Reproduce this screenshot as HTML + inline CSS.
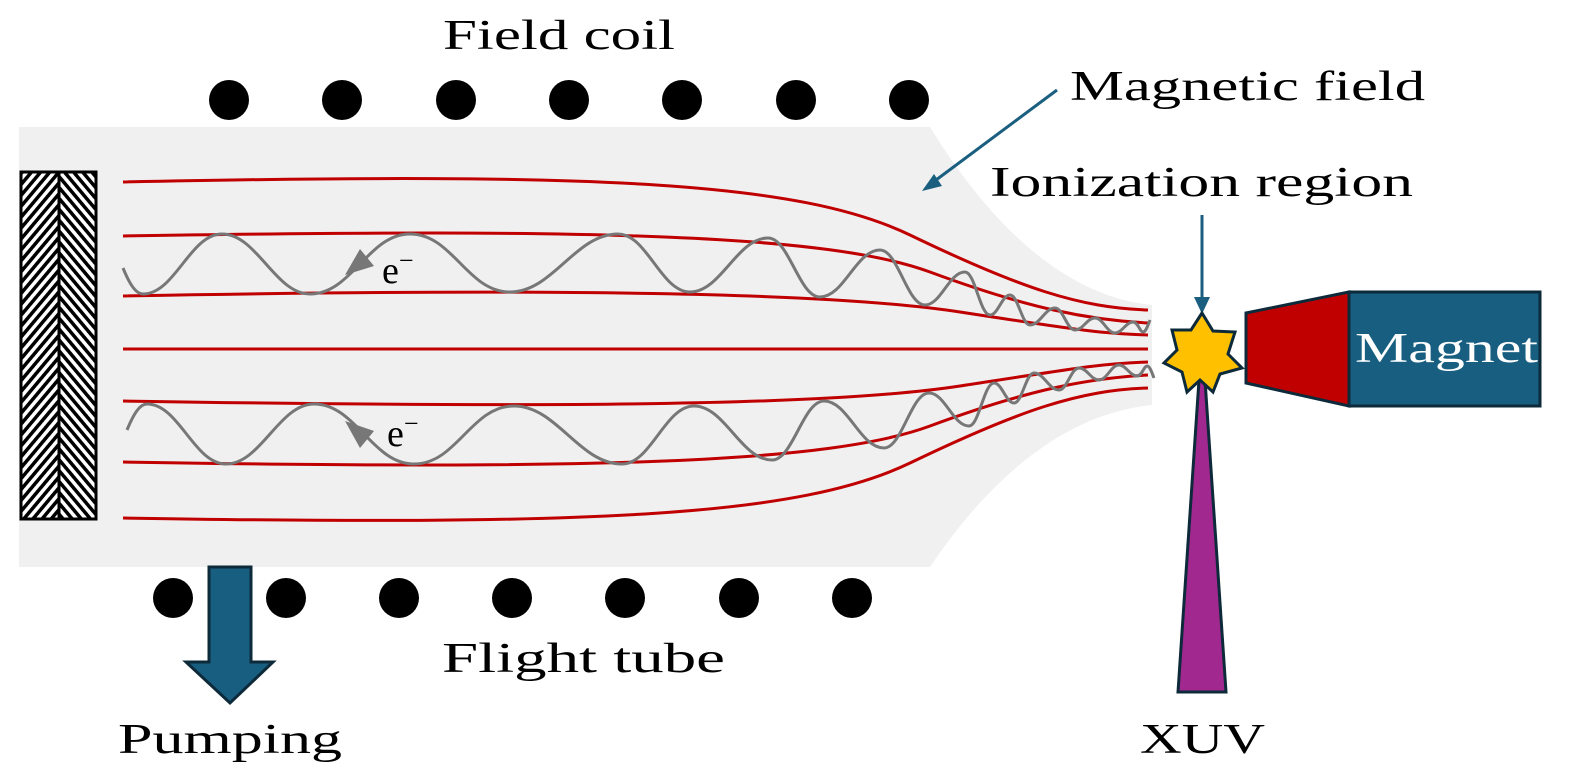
<!DOCTYPE html>
<html><head><meta charset="utf-8"><style>
html,body{margin:0;padding:0;background:#fff}
svg{display:block}
text{font-family:"Liberation Serif",serif;fill:#000}
</style></head><body>
<svg width="1575" height="778" viewBox="0 0 1575 778" xmlns="http://www.w3.org/2000/svg">
<defs>
<pattern id="h1" width="7" height="7" patternUnits="userSpaceOnUse" patternTransform="rotate(40)"><rect width="7" height="7" fill="#fff"/><rect width="3.5" height="7" fill="#000"/></pattern>
<pattern id="h2" width="7" height="7" patternUnits="userSpaceOnUse" patternTransform="rotate(-40)"><rect width="7" height="7" fill="#fff"/><rect width="3.5" height="7" fill="#000"/></pattern>
<g id="wave">
<path fill="none" stroke="#777" stroke-width="3" d="M123,268 C130,285 136,294 143,294 C175,294 190,234 222,234 C257,234 275,294 310,294 C352,294 368,234 410,234 C453,234 467,292 510,292 C553,292 575,234 618,234 C647,234 661,292 690,292 C721,292 737,238 768,238 C789,238 799,297 820,297 C844,297 856,250 880,250 C898,250 907,305 925,305 C941,305 949,272 965,272 C975,272 980,315 990,315 C998,315 1002,295 1010,295 C1018,295 1022,325 1030,325 C1040,325 1045,308 1055,308 C1063,308 1067,330 1075,330 C1083,330 1087,318 1095,318 C1103,318 1107,333 1115,333 C1122,333 1126,322 1133,322 C1138,322 1140,332 1143,332 C1146,332 1148,325 1150,320"/>
</g>
</defs>
<path d="M19,127 H930 C975,200 1050,295 1152,305 V405 C1050,415 975,500 930,567 H19 Z" fill="#f0f0f0"/>
<rect x="21" y="172" width="38" height="347" fill="url(#h1)" stroke="#000" stroke-width="3"/>
<rect x="59" y="172" width="37" height="347" fill="url(#h2)" stroke="#000" stroke-width="3"/>
<g fill="none" stroke="#c00000" stroke-width="3">
<path d="M123,182 C600,172 800,182 910,235 S1080,308 1148,310"/>
<path d="M123,236 C600,228 830,235 930,272 S1090,320 1148,323"/>
<path d="M123,296 C550,288 830,292 960,312 S1100,333 1148,335"/>
<path d="M123,349 H1148"/>
<path d="M123,401 C550,408 830,406 960,386 S1100,364 1148,362"/>
<path d="M123,462 C600,470 830,463 930,426 S1090,378 1148,375"/>
<path d="M123,518 C600,526 800,516 910,463 S1080,390 1148,388"/>
</g>
<use href="#wave"/>
<use href="#wave" transform="translate(4,698) scale(1,-1)"/>
<polygon points="345,275 360,249 374,266" fill="#777"/>
<polygon points="345,421 374,431 360,448" fill="#777"/>
<text x="382" y="283" font-size="38">e<tspan dy="-14" font-size="26">−</tspan></text>
<text x="387" y="446" font-size="38">e<tspan dy="-14" font-size="26">−</tspan></text>
<g fill="#000">
<circle cx="229" cy="100" r="20"/><circle cx="342" cy="100" r="20"/><circle cx="456" cy="100" r="20"/><circle cx="569" cy="100" r="20"/><circle cx="682" cy="100" r="20"/><circle cx="796" cy="100" r="20"/><circle cx="909" cy="100" r="20"/>
<circle cx="173" cy="598" r="20"/><circle cx="286" cy="598" r="20"/><circle cx="399" cy="598" r="20"/><circle cx="512" cy="598" r="20"/><circle cx="625" cy="598" r="20"/><circle cx="739" cy="598" r="20"/><circle cx="852" cy="598" r="20"/>
</g>
<polygon points="209,567 251,567 251,662 273,662 230,703 186,662 209,662" fill="#175e80" stroke="#0d2a3a" stroke-width="3"/>
<text x="443" y="49" font-size="42" textLength="232" lengthAdjust="spacingAndGlyphs">Field coil</text>
<text x="442" y="672" font-size="42" textLength="283" lengthAdjust="spacingAndGlyphs">Flight tube</text>
<text x="118" y="753" font-size="42" textLength="224" lengthAdjust="spacingAndGlyphs">Pumping</text>
<text x="1140" y="753" font-size="42" textLength="125" lengthAdjust="spacingAndGlyphs">XUV</text>
<text x="1070" y="100" font-size="42" textLength="355" lengthAdjust="spacingAndGlyphs">Magnetic field</text>
<text x="990" y="196" font-size="42" textLength="423" lengthAdjust="spacingAndGlyphs">Ionization region</text>
<line x1="1057" y1="90" x2="932" y2="183" stroke="#1a5e80" stroke-width="3"/>
<polygon points="922,191 934,174 942,186" fill="#1a5e80"/>
<line x1="1202" y1="215" x2="1202" y2="300" stroke="#1a5e80" stroke-width="3"/>
<polygon points="1194,297 1210,297 1202,314" fill="#1a5e80"/>
<polygon points="1199,380 1205,380 1226,692 1178,692" fill="#a0288f" stroke="#0d2a3a" stroke-width="3"/>
<polygon points="1202,313 1213,331 1235,332 1228,354 1242,368 1220,374 1213,392 1200,380 1187,392 1182,372 1164,363 1177,350 1172,330 1191,330" fill="#ffc000" stroke="#0d2a3a" stroke-width="3" stroke-linejoin="miter"/>
<polygon points="1246,313 1349,292 1349,406 1246,383" fill="#c00000" stroke="#0d2a3a" stroke-width="3"/>
<rect x="1349" y="292" width="191" height="114" fill="#175e80" stroke="#0d2a3a" stroke-width="3"/>
<text x="1355" y="362" font-size="42" textLength="183" lengthAdjust="spacingAndGlyphs" style="fill:#fff">Magnet</text>
</svg>
</body></html>
